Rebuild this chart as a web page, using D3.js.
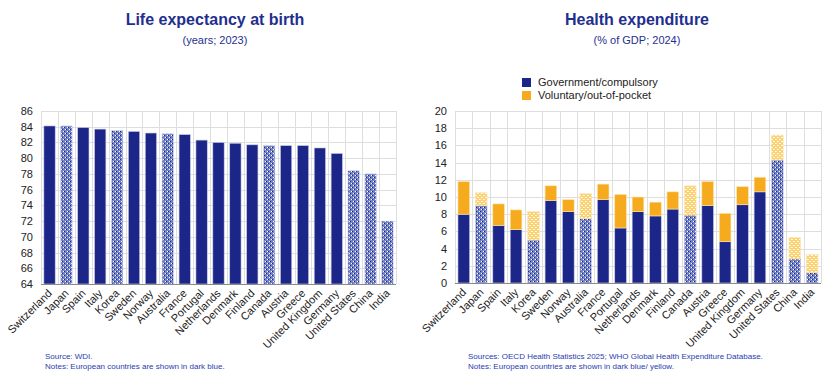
<!DOCTYPE html>
<html lang="en">
<head>
<meta charset="UTF-8">
<title>Life expectancy and health expenditure</title>
<script src="https://d3js.org/d3.v7.min.js"></script>
<style>
    body { margin: 0; background: #fff; }
    svg { font-family: "Liberation Sans", Arial, sans-serif; }
    .grid line { stroke: #dedede; stroke-width: 1; }
    .tick text { fill: #222; font-size: 11px; }
</style>
</head>
<body>
<svg id="chart" width="835" height="389"></svg>
<script>
// Data
const countries = ["Switzerland", "Japan", "Spain", "Italy", "Korea", "Sweden", "Norway", "Australia",
    "France", "Portugal", "Netherlands", "Denmark", "Finland", "Canada", "Austria", "Greece",
    "United Kingdom", "Germany", "United States", "China", "India"];
const nonEuropean = ["Japan", "Korea", "Australia", "Canada", "United States", "China", "India"];
const lifeExp = [84.1, 84.1, 83.9, 83.7, 83.5, 83.4, 83.2, 83.1, 83.0, 82.3, 82.0, 81.9, 81.7,
    81.6, 81.6, 81.6, 81.3, 80.6, 78.4, 78.0, 72.0];

const hxCountries = countries;
const govShare = [8.0, 9.0, 6.7, 6.2, 5.0, 9.6, 8.3, 7.5, 9.7, 6.4, 8.3, 7.8, 8.6, 7.9, 9.0, 4.8,
    9.1, 10.6, 14.3, 2.8, 1.2];
const volShare = [3.8, 1.5, 2.5, 2.3, 3.3, 1.7, 1.4, 2.9, 1.8, 3.9, 1.7, 1.6, 2.0, 3.4, 2.8, 3.3,
    2.1, 1.7, 2.9, 2.5, 2.1];
const seriesNames = ["Government/compulsory", "Voluntary/out-of-pocket"];

const leTicks = d3.range(64, 87, 2);
const hxTicks = d3.range(0, 21, 2);

const navy = "#1c2689", orange = "#f6aa1e", titleCol = "#1f2f8f", noteCol = "#2b3caf";

const svg = d3.select("#chart");

// patterns for non-European countries
const defs = svg.append("defs");
function dotPattern(id, base) {
    const p = defs.append("pattern").attr("id", id)
        .attr("patternUnits", "userSpaceOnUse").attr("width", 4).attr("height", 4);
    p.append("rect").attr("width", 4).attr("height", 4).attr("fill", base);
    p.append("rect").attr("x", 1).attr("y", 1).attr("width", 1).attr("height", 1).attr("fill", "#fff");
    p.append("rect").attr("x", 2).attr("y", 1).attr("width", 1).attr("height", 1).attr("fill", id == "hatchBlue" ? navy : "#fff4d8");
    p.append("rect").attr("x", 3).attr("y", 3).attr("width", 1).attr("height", 1).attr("fill", "#fff");
    p.append("rect").attr("x", 0).attr("y", 3).attr("width", 1).attr("height", 1).attr("fill", id == "hatchBlue" ? navy : "#fff4d8");
}
dotPattern("hatchBlue", "#7482c6");
dotPattern("hatchYellow", "#fbd271");

function frame(x0, x1, y0, y1, y, ticks, cats) {
    const x = d3.scaleBand().domain(cats).range([x0, x1]).paddingInner(0.33).paddingOuter(0.17);
    const g = svg.append("g");
    const grid = g.append("g").attr("class", "grid");
    // horizontal grid
    grid.selectAll(".h").data(ticks).enter().append("line")
        .attr("x1", x0).attr("x2", x1)
        .attr("y1", d => Math.round(y(d)) + 0.5).attr("y2", d => Math.round(y(d)) + 0.5);
    // vertical grid at band boundaries
    const step = (x1 - x0) / cats.length;
    grid.selectAll(".v").data(d3.range(cats.length + 1)).enter().append("line")
        .attr("x1", i => Math.round(x0 + i * step) + 0.5).attr("x2", i => Math.round(x0 + i * step) + 0.5)
        .attr("y1", y1).attr("y2", y0);
    // y axis labels
    g.append("g").attr("transform", `translate(${x0},0)`)
        .call(d3.axisLeft(y).tickValues(ticks).tickSize(0).tickPadding(8))
        .call(a => a.select(".domain").remove());
    return { x, g };
}

function xLabels(g, x, yPos) {
    g.selectAll(".xl").data(x.domain()).enter().append("text")
        .attr("transform", d => `translate(${x(d) + x.bandwidth() / 2 + 3},${yPos}) rotate(-45)`)
        .attr("text-anchor", "end")
        .attr("font-size", 11).attr("fill", "#222")
        .text(d => d);
}

// ---------- Left: life expectancy ----------
const L = { x0: 41, x1: 396, y0: 284, y1: 111 };
const yL = d3.scaleLinear().domain([64, 86]).range([L.y0, L.y1]);
const left = frame(L.x0, L.x1, L.y0, L.y1, yL, leTicks, countries);

left.g.selectAll(".bar").data(countries).enter().append("rect")
    .attr("x", d => left.x(d))
    .attr("width", left.x.bandwidth())
    .attr("y", (d, i) => yL(lifeExp[i]))
    .attr("height", (d, i) => yL(64) - yL(lifeExp[i]))
    .attr("fill", d => nonEuropean.includes(d) ? "url(#hatchBlue)" : navy)
    .attr("stroke", "#c9cfe8").attr("stroke-width", 0.6);

left.g.append("line").attr("x1", L.x0).attr("x2", L.x1)
    .attr("y1", L.y0 + 0.5).attr("y2", L.y0 + 0.5).attr("stroke", "#8a8a8a");
xLabels(left.g, left.x, L.y0 + 10);

svg.append("text").attr("x", 215).attr("y", 25).attr("text-anchor", "middle")
    .attr("font-size", 16).attr("font-weight", "bold").attr("fill", titleCol)
    .text("Life expectancy at birth");
svg.append("text").attr("x", 215).attr("y", 44).attr("text-anchor", "middle")
    .attr("font-size", 11).attr("fill", titleCol).text("(years; 2023)");
svg.append("text").attr("x", 45).attr("y", 359).attr("font-size", 8).attr("fill", noteCol)
    .text("Source: WDI.");
svg.append("text").attr("x", 45).attr("y", 369).attr("font-size", 8).attr("fill", noteCol)
    .text("Notes: European countries are shown in dark blue.");

// ---------- Right: health expenditure ----------
const R = { x0: 455, x1: 821, y0: 283, y1: 111 };
const yR = d3.scaleLinear().domain([0, 20]).range([R.y0, R.y1]);
const right = frame(R.x0, R.x1, R.y0, R.y1, yR, hxTicks, hxCountries);

const rows = hxCountries.map((c, i) => ({ country: c, gov: govShare[i], vol: volShare[i] }));
const stack = d3.stack().keys(["gov", "vol"])(rows);

right.g.selectAll(".layer").data(stack).enter().append("g")
    .selectAll("rect").data(d => d.map(p => ({ p, key: d.key }))).enter().append("rect")
    .attr("x", d => right.x(d.p.data.country))
    .attr("width", right.x.bandwidth())
    .attr("y", d => yR(d.p[1]))
    .attr("height", d => yR(d.p[0]) - yR(d.p[1]))
    .attr("fill", d => {
        const ne = nonEuropean.includes(d.p.data.country);
        if (d.key == "gov") return ne ? "url(#hatchBlue)" : navy;
        return ne ? "url(#hatchYellow)" : orange;
    })
    .attr("stroke", d => d.key == "gov" ? "#c9cfe8" : "#fde7b5").attr("stroke-width", 0.6);

right.g.append("line").attr("x1", R.x0).attr("x2", R.x1)
    .attr("y1", R.y0 + 0.5).attr("y2", R.y0 + 0.5).attr("stroke", "#8a8a8a");
xLabels(right.g, right.x, R.y0 + 10);

// legend
const legend = svg.append("g").selectAll("g").data(seriesNames).enter().append("g")
    .attr("transform", (d, i) => `translate(522,${78 + i * 13})`);
legend.append("rect").attr("width", 9).attr("height", 9)
    .attr("fill", (d, i) => i == 0 ? navy : orange);
legend.append("text").attr("x", 16).attr("y", 8).attr("font-size", 11).attr("fill", "#222")
    .text(d => d);

svg.append("text").attr("x", 637).attr("y", 25).attr("text-anchor", "middle")
    .attr("font-size", 16).attr("font-weight", "bold").attr("fill", titleCol)
    .text("Health expenditure");
svg.append("text").attr("x", 637).attr("y", 44).attr("text-anchor", "middle")
    .attr("font-size", 11).attr("fill", titleCol).text("(% of GDP; 2024)");
svg.append("text").attr("x", 468).attr("y", 359).attr("font-size", 8).attr("fill", noteCol)
    .text("Sources: OECD Health Statistics 2025; WHO Global Health Expenditure Database.");
svg.append("text").attr("x", 468).attr("y", 369).attr("font-size", 8).attr("fill", noteCol)
    .text("Notes: European countries are shown in dark blue/ yellow.");
</script>
</body>
</html>
